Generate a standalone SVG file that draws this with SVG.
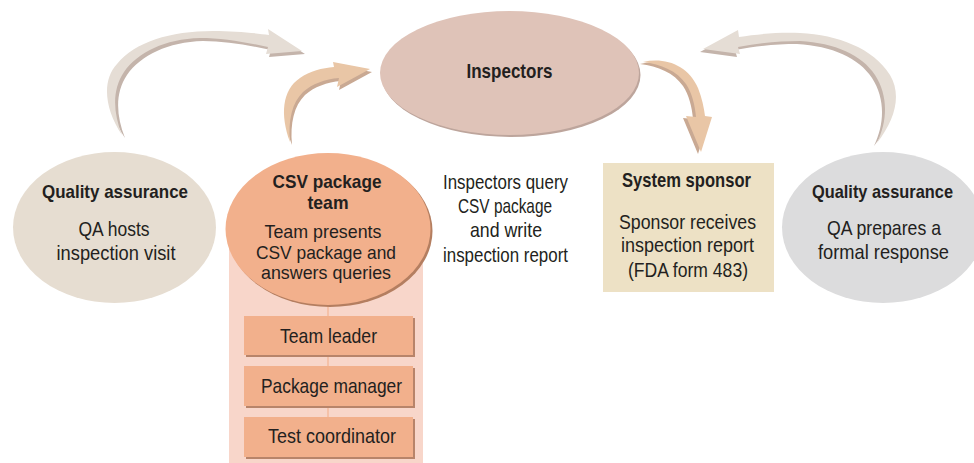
<svg xmlns="http://www.w3.org/2000/svg" width="974" height="463" viewBox="0 0 974 463">
<style>
text{font-family:"Liberation Sans",Arial,sans-serif;font-size:21px;fill:#231f20;text-anchor:middle}
.b{font-weight:bold}
.s{font-size:19px}
.gA{fill:#e5ddd5}.gS{fill:#c4b4ab}
.pA{fill:#e9c6a6}.pS{fill:#c9a993}
.box{fill:#f2b08c}.boxS{fill:#b8846a}
</style>
<rect width="974" height="463" fill="#ffffff"/>
<g id="connectors">
  <g id="arrow-qa-to-inspectors">
    <path class="gS" transform="translate(3,3)" d="M122,135 C104,108 102,80 117,64 C135,42 170,31 213,31 C235,31 255,33 269,35 L268,29 L302,51 L266,54 L268,47 C245,42 222,38 200,38 C165,39 138,52 124,72 C112,90 113,112 122,135 Z"/>
    <path class="gA" d="M122,135 C104,108 102,80 117,64 C135,42 170,31 213,31 C235,31 255,33 269,35 L268,29 L302,51 L266,54 L268,47 C245,42 222,38 200,38 C165,39 138,52 124,72 C112,90 113,112 122,135 Z"/>
  </g>
  <g id="arrow-csv-to-inspectors">
    <path class="pS" transform="translate(2,3)" d="M290,142 C280,115 282,90 300,78 C310,71 322,68 334,67 L333,62 L370,69 L337,87 L339,78 C325,79 312,84 303,92 C292,103 288,120 290,142 Z"/>
    <path class="pA" d="M290,142 C280,115 282,90 300,78 C310,71 322,68 334,67 L333,62 L370,69 L337,87 L339,78 C325,79 312,84 303,92 C292,103 288,120 290,142 Z"/>
  </g>
  <g id="arrow-inspectors-to-sponsor">
    <path class="pS" transform="translate(-3,2)" d="M643,62 C665,57 688,65 698,88 C702,98 704,108 705,116 L712,117 L701,152 L686,116 L696,117 C695,105 692,93 686,84 C677,71 661,64 643,62 Z"/>
    <path class="pA" d="M643,62 C665,57 688,65 698,88 C702,98 704,108 705,116 L712,117 L701,152 L686,116 L696,117 C695,105 692,93 686,84 C677,71 661,64 643,62 Z"/>
  </g>
  <g id="arrow-qa-response-to-inspectors">
    <path class="gS" transform="translate(-3,3)" d="M877,143 C895,120 902,95 890,75 C873,48 838,35 800,33 C780,32 758,34 739,37 L738,30 L703,49 L740,54 L738,47 C760,43 780,41 800,41 C835,43 862,55 875,75 C888,95 888,120 877,143 Z"/>
    <path class="gA" d="M877,143 C895,120 902,95 890,75 C873,48 838,35 800,33 C780,32 758,34 739,37 L738,30 L703,49 L740,54 L738,47 C760,43 780,41 800,41 C835,43 862,55 875,75 C888,95 888,120 877,143 Z"/>
  </g>
</g>
<g id="inspectors">
  <ellipse cx="511" cy="75" rx="129.5" ry="62" fill="#bda59c"/>
  <ellipse cx="509.5" cy="73" rx="129.5" ry="62" fill="#dfc3b8"/>
  <text class="b" x="509.5" y="78" textLength="86" lengthAdjust="spacingAndGlyphs">Inspectors</text>
</g>
<g id="qa-left">
  <ellipse cx="114.5" cy="227.5" rx="101.5" ry="75.5" fill="#e6ddd1"/>
  <text class="b s" x="115" y="198" textLength="146" lengthAdjust="spacingAndGlyphs">Quality assurance</text>
  <text x="114" y="236" textLength="71" lengthAdjust="spacingAndGlyphs">QA hosts</text>
  <text x="116" y="260" textLength="119" lengthAdjust="spacingAndGlyphs">inspection visit</text>
</g>
<g id="csv-team">
  <rect x="229" y="235" width="194" height="228" fill="#f8d6ca"/>
  <line x1="328" y1="300" x2="328" y2="418" stroke="#f5c1a8" stroke-width="2"/>
  <ellipse cx="330" cy="231" rx="102.5" ry="76" fill="#b47e60"/>
  <ellipse cx="328" cy="229" rx="102.5" ry="76" fill="#f2b08c"/>
  <text class="b s" x="327" y="188" textLength="109" lengthAdjust="spacingAndGlyphs">CSV package</text>
  <text class="b s" x="328" y="209" textLength="41" lengthAdjust="spacingAndGlyphs">team</text>
  <text class="s" x="323" y="238" textLength="117" lengthAdjust="spacingAndGlyphs">Team presents</text>
  <text class="s" x="326" y="259" textLength="140" lengthAdjust="spacingAndGlyphs">CSV package and</text>
  <text class="s" x="326" y="279" textLength="130" lengthAdjust="spacingAndGlyphs">answers queries</text>
</g>
<g id="team-leader">
  <rect class="boxS" x="246" y="318" width="169" height="39"/>
  <rect class="box" x="244" y="316" width="169" height="39"/>
  <text x="328.5" y="343" textLength="97" lengthAdjust="spacingAndGlyphs">Team leader</text>
</g>
<g id="package-manager">
  <rect class="boxS" x="246" y="368" width="169" height="40"/>
  <rect class="box" x="244" y="366" width="169" height="40"/>
  <text x="331.5" y="393" textLength="141" lengthAdjust="spacingAndGlyphs">Package manager</text>
</g>
<g id="test-coordinator">
  <rect class="boxS" x="246" y="419" width="169" height="40"/>
  <rect class="box" x="244" y="417" width="169" height="40"/>
  <text x="332" y="443" textLength="128" lengthAdjust="spacingAndGlyphs">Test coordinator</text>
</g>
<g id="inspectors-query">
  <text x="505.5" y="189" textLength="125" lengthAdjust="spacingAndGlyphs">Inspectors query</text>
  <text x="505" y="213" textLength="94" lengthAdjust="spacingAndGlyphs">CSV package</text>
  <text x="506" y="237" textLength="72" lengthAdjust="spacingAndGlyphs">and write</text>
  <text x="505.5" y="262" textLength="125" lengthAdjust="spacingAndGlyphs">inspection report</text>
</g>
<g id="system-sponsor">
  <rect x="603" y="163" width="171" height="129" fill="#ede1c5"/>
  <text class="b" x="686.5" y="187" textLength="129" lengthAdjust="spacingAndGlyphs">System sponsor</text>
  <text x="687.5" y="229" textLength="137" lengthAdjust="spacingAndGlyphs">Sponsor receives</text>
  <text x="687.5" y="252" textLength="133" lengthAdjust="spacingAndGlyphs">inspection report</text>
  <text x="688" y="277" textLength="120" lengthAdjust="spacingAndGlyphs">(FDA form 483)</text>
</g>
<g id="qa-right">
  <ellipse cx="883" cy="227.5" rx="101" ry="75.5" fill="#dcdcdd"/>
  <text class="b s" x="882.5" y="198" textLength="141" lengthAdjust="spacingAndGlyphs">Quality assurance</text>
  <text x="884" y="235" textLength="114" lengthAdjust="spacingAndGlyphs">QA prepares a</text>
  <text x="883.5" y="259" textLength="131" lengthAdjust="spacingAndGlyphs">formal response</text>
</g>
</svg>
